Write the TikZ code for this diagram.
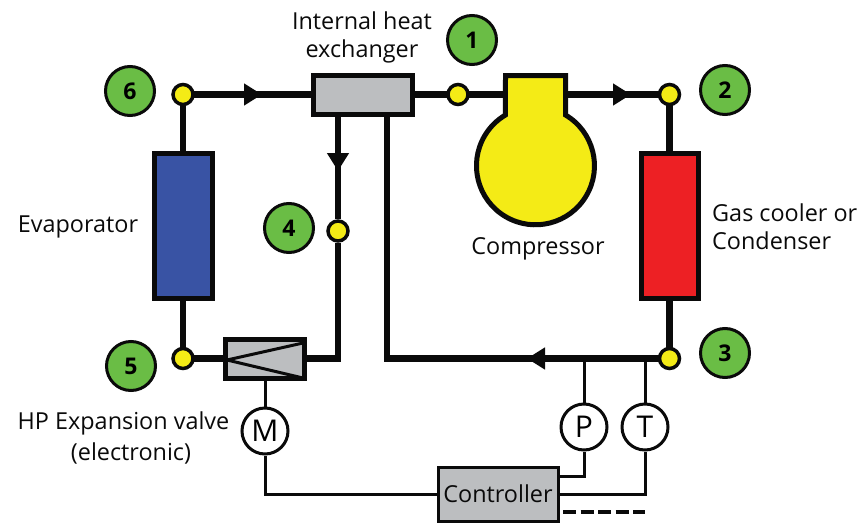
\documentclass[tikz,border=0pt]{standalone}
\usepackage{fontspec}
\setmainfont{Open Sans}
\usetikzlibrary{arrows.meta}
\pgfdeclarelayer{background}
\pgfsetlayers{background,main}
\definecolor{badgegreen}{HTML}{6ABD45}
\definecolor{markyellow}{HTML}{F4EB16}
\definecolor{boxgray}{HTML}{BCBEC0}
\definecolor{inkblack}{HTML}{0A0A0A}
\definecolor{evapblue}{HTML}{3953A4}
\definecolor{condred}{HTML}{ED2024}
\tikzstyle{state point}=[circle,draw=inkblack,line width=3.5pt,fill=markyellow,minimum size=20pt,inner sep=0pt]
\tikzstyle{state badge}=[circle,draw=inkblack,line width=3pt,fill=badgegreen,minimum size=49pt,inner sep=0pt,font=\fontsize{23}{23}\selectfont\bfseries]
\tikzstyle{sensor}=[circle,draw=inkblack,line width=3pt,fill=white,minimum size=46pt,inner sep=0pt,font=\fontsize{30}{30}\selectfont]
\tikzstyle{unit}=[rectangle,draw=inkblack,line width=5pt,inner sep=0pt]
\tikzstyle{label}=[text=inkblack,inner sep=0pt,align=center,font=\fontsize{23.4}{28}\selectfont]
\tikzstyle{pipe}=[draw=inkblack,line width=6.5pt]
\tikzstyle{signal}=[draw=inkblack,line width=3pt]
\tikzstyle{flow}=[pipe,-{Triangle[length=18pt,width=21pt]}]

\begin{document}
\begin{tikzpicture}[x=1pt,y=-1pt]
    \useasboundingbox (0,0) rectangle (859,522);
    % First the state points and their numbers
    \foreach \pos/\name in {{(183,94.5)/P6}, {(458,94.5)/P1}, {(669.5,94.5)/P2}, {(338,231)/P4}, {(183,358.5)/P5}, {(669.5,358.5)/P3}}
        \node[state point] (\name) at \pos {};

    \foreach \pos/\name in {{(472,40)/1}, {(725,90)/2}, {(725,353)/3}, {(289,228)/4}, {(131,366)/5}, {(130,91)/6}}
        \node[state badge] (B\name) at \pos {\name};

    % Then the units
    \node[unit,fill=boxgray,minimum width=99pt,minimum height=39pt] (IHX) at (363,94.5) {};
    \node[unit,fill=evapblue,minimum width=58pt,minimum height=145pt] (EVAP) at (183,226) {};
    \node[unit,fill=condred,minimum width=57pt,minimum height=145pt] (COND) at (669.5,226) {};
    \node[unit,fill=boxgray,minimum width=79pt,minimum height=39pt] (VALVE) at (265,358.5) {};
    \node[rectangle,draw=inkblack,line width=3pt,fill=boxgray,minimum width=120pt,minimum height=54pt,inner sep=0pt,text=inkblack,font=\fontsize{23.4}{28}\selectfont] (CTRL) at (498,494) {Controller};

    % Compressor body
    \draw[draw=inkblack,line width=5pt,fill=markyellow,line join=miter] (505.5,75.5) -- (565.5,75.5) -- (565.5,115) arc[start angle=-59.4,end angle=239.4,radius=59] -- cycle;
    \coordinate (COMPin) at (503,94.5);
    \coordinate (COMPout) at (568,94.5);

    % Sensors
    \foreach \pos/\name in {{(265,431)/M}, {(584,427)/P}, {(645,427)/T}}
        \node[sensor] (\name) at \pos {\name};

    % Free points on the lines
    \coordinate (Atop) at (262,94.5);
    \coordinate (Aout) at (631,94.5);
    \coordinate (Adown) at (338,171);
    \coordinate (Aback) at (527,358.5);
    \coordinate (RETup) at (387,117);
    \coordinate (RETdown) at (387,358.5);
    \coordinate (TAPp) at (584,358.5);
    \coordinate (TAPt) at (645,358.5);
    \coordinate (DASHa) at (563,512);
    \coordinate (DASHb) at (645,512);

    \begin{pgfonlayer}{background}
    % Connect everything with pipes
    \foreach \source/ \dest in {P6/IHX, IHX/P1, P1/COMPin, COMPout/P2, P2/COND, COND/P3, P3/RETdown, RETdown/RETup, P6/EVAP, EVAP/P5, P5/VALVE}
        \path[pipe,line cap=rect] (\source) -- (\dest);
    \path[pipe] (P4 |- IHX.south) -- (P4);
    \path[pipe] (P4) |- (VALVE.east);
    \path[flow] (P6) -- (Atop);
    \path[flow] (COMPout) -- (Aout);
    \path[flow] (P4 |- IHX.south) -- (Adown);
    \path[flow] (P3) -- (Aback);
    % Thin signal lines
    \foreach \source/ \dest in {TAPp/P, TAPt/T, VALVE/M}
        \path[signal] (\source) -- (\dest);
    \path[signal] (M) |- (CTRL.west);
    \path[signal] (P) |- (CTRL.east |- 0,476);
    \path[signal] (T) |- (CTRL.east);
    \path[signal,line width=3.5pt,dash pattern=on 13pt off 4.5pt] (DASHa) -- (DASHb);
    \end{pgfonlayer}

    % Valve symbol
    \coordinate (Vtop) at (303,343);
    \coordinate (Vtip) at (227,360);
    \coordinate (Vbot) at (303,378);
    \draw[draw=inkblack,line width=3pt] (Vtop) -- (Vtip) -- (Vbot);

    % Labels
    \node[label] (lblIHX) at (362,37) {Internal heat\\exchanger};
    \node[label] (lblEVAP) at (78,227) {Evaporator};
    \node[label] (lblCOMP) at (538,249) {Compressor};
    \node[label,align=left,anchor=west] (lblCOND) at (712,227) {Gas cooler or\\Condenser};
    \node[label] (lblVALVE) at (123.5,423) {HP Expansion valve};
    \node[label] (lblVALVEb) at (131,453) {(electronic)};
\end{tikzpicture}
\end{document}
